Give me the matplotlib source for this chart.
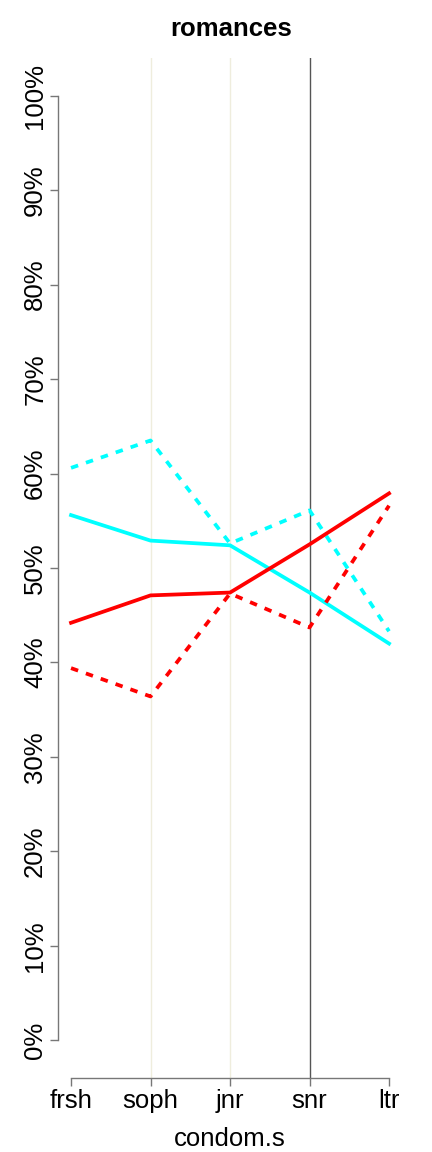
import matplotlib
matplotlib.use("Agg")
import matplotlib.pyplot as plt

categories = ["frsh", "soph", "jnr", "snr", "ltr"]
cyan_dashed = [60.6, 63.5, 52.6, 56.1, 43.3]
cyan_solid = [55.6, 52.9, 52.4, 47.4, 42.0]
red_solid = [44.2, 47.1, 47.4, 52.5, 57.9]
red_dashed = [39.4, 36.4, 47.3, 43.7, 56.6]
yticks = [0, 10, 20, 30, 40, 50, 60, 70, 80, 90, 100]
ytick_labels = [f"{v}%" for v in yticks]
title = "romances"
xlabel = "condom.s"

plt.rcParams['font.family'] = ['Liberation Sans', 'DejaVu Sans']

fig = plt.figure(figsize=(4.32, 11.52), dpi=100)
ax = fig.add_axes([0.135, 0.0642, 0.795, 0.8855])
x = list(range(1, len(categories) + 1))

# vertical reference lines
ax.axvline(2, color="#EFEDDD", lw=1.0, zorder=1)
ax.axvline(3, color="#EFEDDD", lw=1.0, zorder=1)
ax.axvline(4, color="#555555", lw=1.0, zorder=1)

lw = 2.7
ax.plot(x, cyan_dashed, color="#00FFFF", lw=lw, dashes=(2, 2.2), zorder=3)
ax.plot(x, cyan_solid, color="#00FFFF", lw=lw, zorder=3)
ax.plot(x, red_solid, color="#FF0000", lw=lw, zorder=3)
ax.plot(x, red_dashed, color="#FF0000", lw=lw, dashes=(2, 2.2), zorder=3)

ax.set_xlim(1 - 0.16, 5 + 0.16)
ax.set_ylim(-4, 104)

for s in ["top", "right"]:
    ax.spines[s].set_visible(False)
ax.spines["left"].set_bounds(0, 100)
ax.spines["bottom"].set_bounds(1, 5)
for s in ["left", "bottom"]:
    ax.spines[s].set_color("#777777")
    ax.spines[s].set_linewidth(1.0)

ax.set_xticks(x)
ax.set_xticklabels(categories, fontsize=18.5)
ax.set_yticks(yticks)
ax.set_yticklabels(ytick_labels, fontsize=18.5, rotation=90, va="center")
ax.tick_params(axis="both", colors="#777777", labelcolor="black", length=6, width=1.0)
ax.tick_params(axis="x", pad=2)
ax.tick_params(axis="y", pad=2)

ax.set_xlabel(xlabel, fontsize=18.5, labelpad=10)
fig.suptitle(title, fontsize=18.5, fontweight="bold", y=0.985, va="top", x=0.535)

fig.savefig("out.png", dpi=100)
